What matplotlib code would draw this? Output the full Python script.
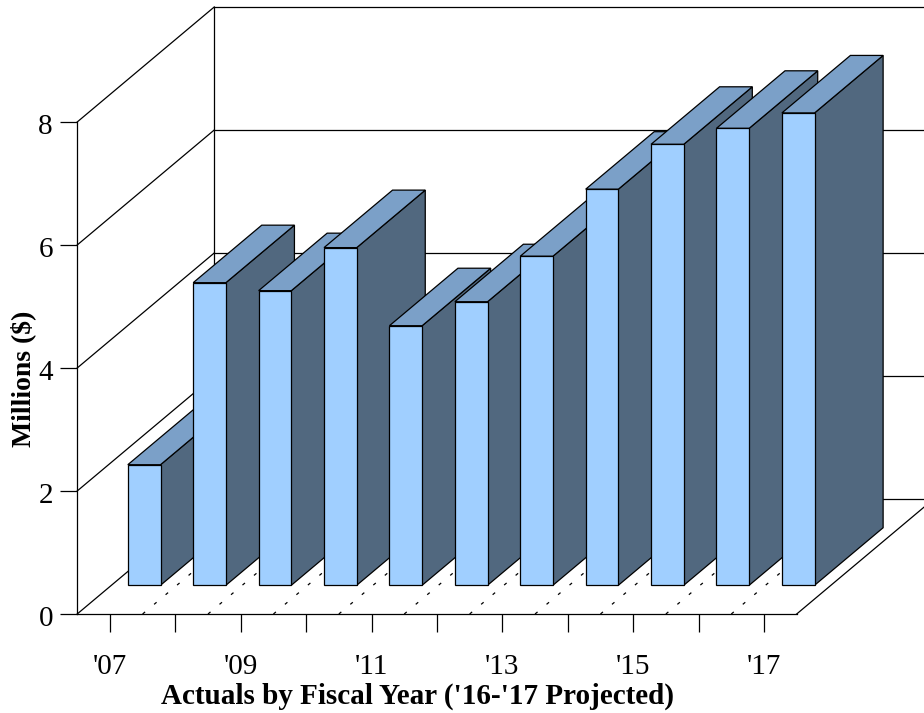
import matplotlib
matplotlib.use("Agg")
import matplotlib.pyplot as plt
from matplotlib.patches import Polygon
from matplotlib.transforms import ScaledTranslation

plt.rcParams['font.family'] = ['Liberation Serif', 'DejaVu Serif']

# ============================
# DATA
# ============================
years = ["'07", "", "'09", "", "'11", "", "'13", "", "'15", "", "'17"]
millions = [1.96, 4.92, 4.79, 5.49, 4.22, 4.61, 5.35, 6.44, 7.17, 7.43, 7.68]
y_ticks = [0, 2, 4, 6, 8]

# ============================
# STYLE
# ============================
FRONT = "#a0cfff"
TOP = "#7ba0c8"
SIDE = "#51687f"
LW = 0.9

# oblique projection: how far the back of the box sits from the front, in data units
DEPTH_X = 2.095
DEPTH_Y = 1.87
BAR_WIDTH = 0.5
BAR_NEAR = 0.25   # bars stand in the middle half of the floor
BAR_FAR = 0.75


def proj(x, y, d):
    return (x + d * DEPTH_X, y + d * DEPTH_Y)


W, H = 924, 713
fig = plt.figure(figsize=(W / 100, H / 100), dpi=100)
ax = fig.add_axes([77.2 / W, (H - 614) / H, 719.5 / W, 492 / H])
ax.set_xlim(-0.5, 10.5)
ax.set_ylim(0, 8)
ax.patch.set_visible(False)

# ============================
# WALLS AND FLOOR
# ============================
for v in y_ticks:
    # left wall, then back wall (runs off the right of the figure)
    x0, y0 = proj(-0.5, v, 1)
    ax.plot([-0.5, x0], [v, y0], color="k", lw=LW, clip_on=False, zorder=1)
    ax.plot([x0, 10.5 + DEPTH_X], [y0, y0], color="k", lw=LW, clip_on=False, zorder=1)

back_x, back_bottom = proj(-0.5, 0, 1)
ax.plot([back_x, back_x], [back_bottom, 8 + DEPTH_Y], color="k", lw=LW, clip_on=False, zorder=1)

right_x, right_y = proj(10.5, 0, 1)
ax.plot([10.5, right_x], [0, right_y], color="k", lw=LW, clip_on=False, zorder=1)

# dashed floor lines between the categories
for k in range(1, len(years)):
    x0, y0 = proj(k - 0.5, 0, 1)
    ax.plot([k - 0.5, x0], [0, y0], color="k", lw=LW,
            linestyle=(0, (2.6, 9.4)), clip_on=False, zorder=1)

# ============================
# BARS
# ============================
for i, v in enumerate(millions):
    left = i - BAR_WIDTH / 2
    right = i + BAR_WIDTH / 2
    z = 2 + i * 0.1
    front = [proj(left, 0, BAR_NEAR), proj(right, 0, BAR_NEAR),
             proj(right, v, BAR_NEAR), proj(left, v, BAR_NEAR)]
    top = [proj(left, v, BAR_NEAR), proj(right, v, BAR_NEAR),
           proj(right, v, BAR_FAR), proj(left, v, BAR_FAR)]
    side = [proj(right, 0, BAR_NEAR), proj(right, 0, BAR_FAR),
            proj(right, v, BAR_FAR), proj(right, v, BAR_NEAR)]
    for pts, color in ((side, SIDE), (top, TOP), (front, FRONT)):
        ax.add_patch(Polygon(pts, closed=True, facecolor=color, edgecolor="k",
                             linewidth=LW, joinstyle="miter", clip_on=False, zorder=z))

# ============================
# AXES
# ============================
ax.spines["top"].set_visible(False)
ax.spines["right"].set_visible(False)
for s in ("left", "bottom"):
    ax.spines[s].set_linewidth(LW)
    ax.spines[s].set_zorder(1.5)

ax.set_xticks(range(len(years)))
ax.set_xticklabels(years)
ax.set_yticks(y_ticks)
ax.tick_params(axis="x", direction="out", length=13, width=LW, labelsize=21, pad=16)
ax.tick_params(axis="y", direction="out", length=12.5, width=LW, labelsize=21, pad=5)

# digits sit a little below their tick
nudge = ScaledTranslation(0, -2 / 100, fig.dpi_scale_trans)
for label in ax.get_yticklabels():
    label.set_transform(label.get_transform() + nudge)

ax.set_xlabel("Actuals by Fiscal Year ('16-'17 Projected)", fontsize=21, fontweight="bold")
ax.xaxis.set_label_coords((418 - 77) / 720, -(696 - 614) / 492, transform=ax.transAxes)
ax.xaxis.label.set_verticalalignment("center")
ax.set_ylabel("Millions ($)", fontsize=20, fontweight="bold")
ax.yaxis.set_label_coords((23 - 77) / 720, (614 - 379) / 492, transform=ax.transAxes)
ax.yaxis.label.set_verticalalignment("center")

fig.savefig("out.png", dpi=100)
